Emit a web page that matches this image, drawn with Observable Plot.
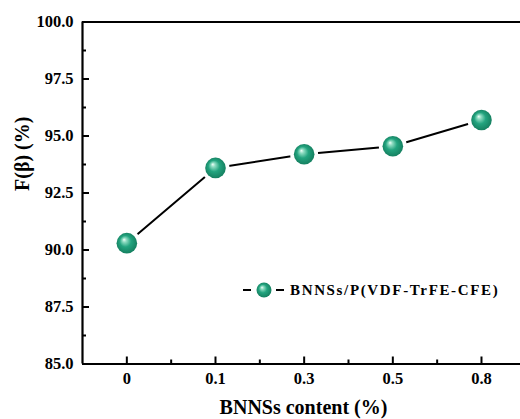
<!DOCTYPE html>
<html><head><meta charset="utf-8">
<script src="https://cdn.jsdelivr.net/npm/d3@7"></script>
<script src="https://cdn.jsdelivr.net/npm/@observablehq/plot@0.6"></script>
<style>body{margin:0;background:#fff} svg{display:block}</style>
</head><body><div id="chart"></div>
<script>
const categories = ["0", "0.1", "0.3", "0.5", "0.8"];
const values = [90.3, 93.6, 94.2, 94.55, 95.7];
const yTicks = [85, 87.5, 90, 92.5, 95, 97.5, 100];
const yMinor = [86.25, 88.75, 91.25, 93.75, 96.25, 98.75];
const xMinor = [0.5, 1.5, 2.5, 3.5];
const seriesName = "BNNSs/P(VDF-TrFE-CFE)";
const xTitle = "BNNSs content (%)";
const yTitle = "F(β) (%)";

const data = categories.map((c, i) => ({i, c, v: values[i]}));
const font = "'Liberation Serif','Times New Roman',serif";

const plot = Plot.plot({
  width: 520, height: 419,
  marginLeft: 82, marginRight: 0, marginTop: 21.5, marginBottom: 55.5,
  style: {fontFamily: font, fontWeight: "bold", fontSize: "16px", background: "white", color: "black", overflow: "visible"},
  x: {type: "linear", domain: [-0.5, 4.44]},
  y: {domain: [85, 100]},
  marks: [
    Plot.line(data, {x: "i", y: "v", stroke: "black", strokeWidth: 2}),
    Plot.dot(data, {x: "i", y: "v", r: 14, fill: "white"}),
    Plot.dot(data, {x: "i", y: "v", r: 10.3, fill: "url(#ball)"}),
    Plot.ruleY([85, 100], {stroke: "black", strokeWidth: 2.2}),
    Plot.ruleX([-0.5], {stroke: "black", strokeWidth: 2.2}),
    Plot.axisY(yTicks, {tickSize: -7, tickPadding: 16, strokeWidth: 2, tickFormat: d => d.toFixed(1), label: null, fontSize: 16.5}),
    Plot.axisY(yMinor, {tickSize: -4, strokeWidth: 2, tickFormat: () => "", label: null}),
    Plot.axisX([0, 1, 2, 3, 4], {tickSize: -7, tickPadding: 15, strokeWidth: 2, tickFormat: i => categories[i], label: null, fontSize: 16.5}),
    Plot.axisX(xMinor, {tickSize: -4, strokeWidth: 2, tickFormat: () => "", label: null}),
    Plot.text([xTitle], {frameAnchor: "bottom", dy: 44, dx: 2, text: d => d, fontSize: 20, lineAnchor: "middle"}),
    Plot.text([yTitle], {frameAnchor: "left", dx: -60, dy: -2, text: d => d, fontSize: 20, rotate: -90, lineAnchor: "middle"})
  ]
});

const svg = d3.select(plot);
const defs = svg.insert("defs", ":first-child");
const g = defs.append("radialGradient").attr("id", "ball")
  .attr("cx", "0.5").attr("cy", "0.5").attr("r", "0.55")
  .attr("fx", "0.36").attr("fy", "0.32");
g.append("stop").attr("offset", "0").attr("stop-color", "#f2fffa");
g.append("stop").attr("offset", "0.18").attr("stop-color", "#8fdcc2");
g.append("stop").attr("offset", "0.5").attr("stop-color", "#23a47f");
g.append("stop").attr("offset", "1").attr("stop-color", "#137a5b");

// legend
const lg = svg.append("g").attr("class", "legend");
lg.append("line").attr("x1", 243).attr("x2", 251).attr("y1", 290).attr("y2", 290).attr("stroke", "black").attr("stroke-width", 2);
lg.append("line").attr("x1", 276).attr("x2", 284).attr("y1", 290).attr("y2", 290).attr("stroke", "black").attr("stroke-width", 2);
lg.append("circle").attr("cx", 264).attr("cy", 290).attr("r", 7.5).attr("fill", "url(#ball)");
lg.append("text").attr("x", 290).attr("y", 290).attr("dy", "0.35em")
  .attr("text-anchor", "start")
  .attr("font-family", font).attr("font-weight", "bold").attr("font-size", 15)
  .attr("letter-spacing", "1.65px").attr("fill", "black").text(seriesName);

document.getElementById("chart").appendChild(plot);
</script>
</body></html>
